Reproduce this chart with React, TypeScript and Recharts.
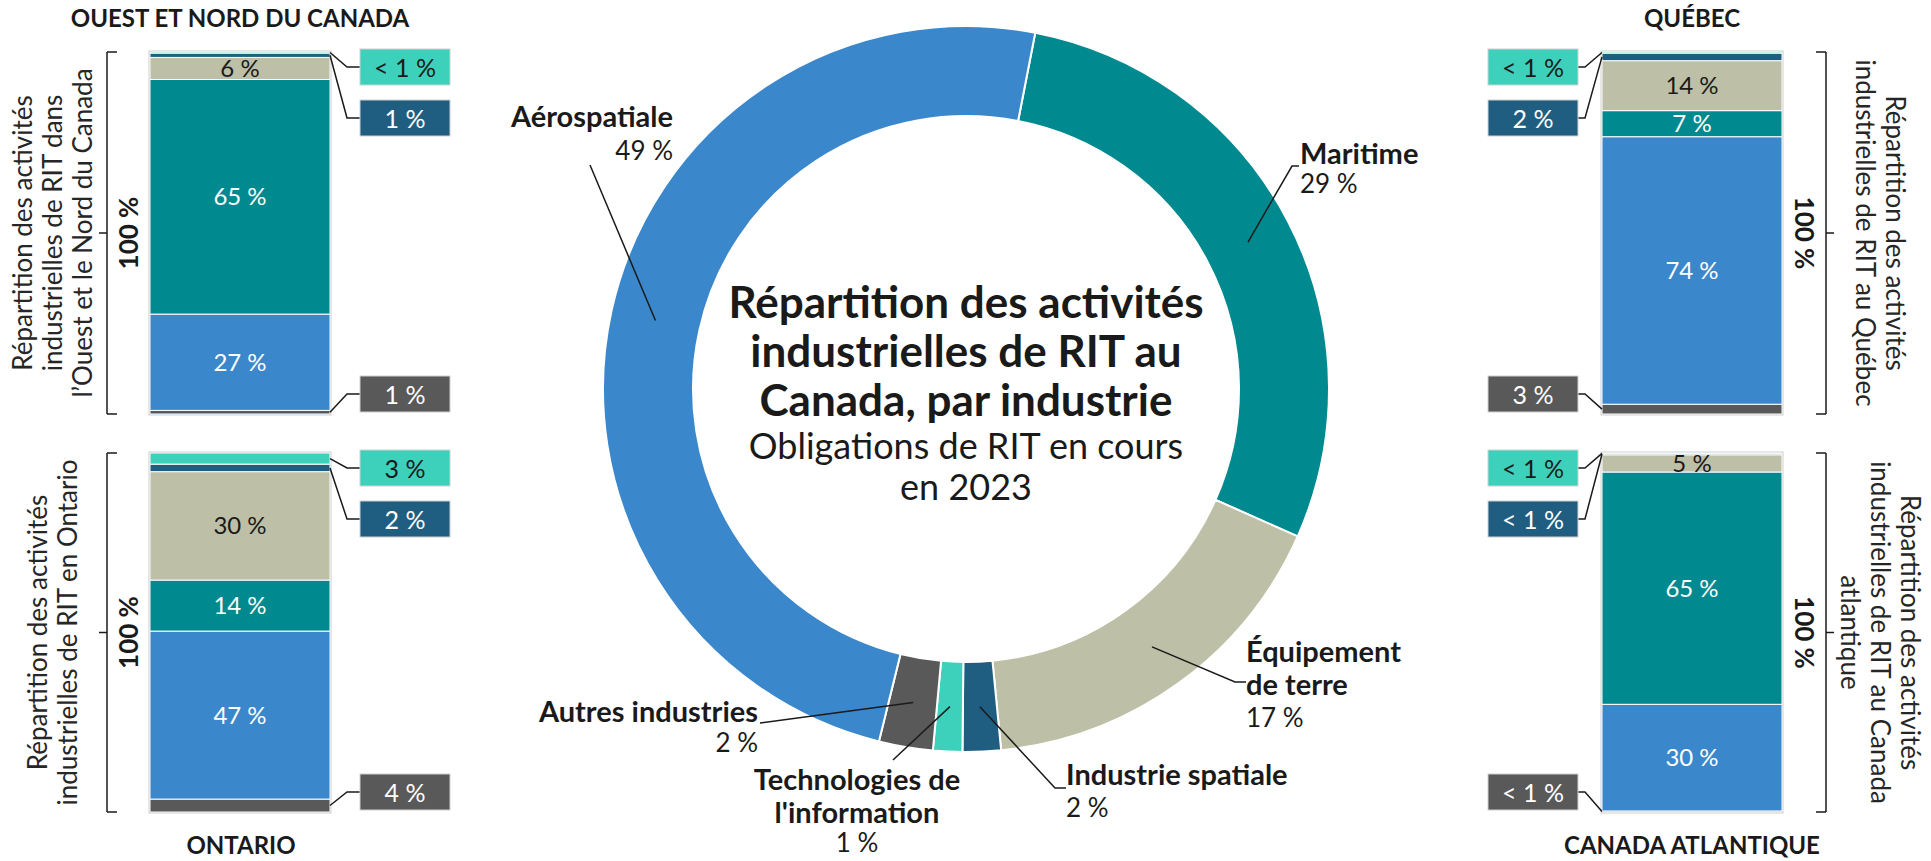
import React from 'react';
import { BarChart, Bar, XAxis, YAxis, LabelList, PieChart, Pie, Cell } from 'recharts';

const FONT = "Lato, 'Open Sans', sans-serif";
const INK = '#1a1a1a';

// stacked series, bottom -> top
const seriesKeys = ['autres', 'aero', 'maritime', 'equipement', 'spatiale', 'ti'];
const seriesColors = ['#595959', '#3B87CB', '#00898F', '#BDBFA6', '#1F5E80', '#3DD1BC'];

const regionNames = ['OUEST ET NORD DU CANADA', 'ONTARIO', 'QUÉBEC', 'CANADA ATLANTIQUE'];
const regionAxisTitles = [
  ['Répartition des activités', 'industrielles de RIT dans', 'l’Ouest et le Nord du Canada'],
  ['Répartition des activités', 'industrielles de RIT en Ontario'],
  ['Répartition des activités', 'industrielles de RIT au Québec'],
  ['Répartition des activités', 'industrielles de RIT au Canada', 'atlantique'],
];
const autres = [1.0, 3.6, 2.7, 0.3];
const aero = [26.6, 46.8, 73.9, 29.7];
const maritime = [64.8, 14.2, 7.2, 64.7];
const equipement = [6.1, 30.2, 13.8, 4.8];
const spatiale = [1.2, 2.1, 2.1, 0.3];
const ti = [0.3, 3.1, 0.3, 0.2];

// donut, clockwise from the Aérospatiale / Maritime boundary
const industries = ['Maritime', 'Équipement de terre', 'Industrie spatiale', "Technologies de l'information", 'Autres industries', 'Aérospatiale'];
const shares = [28.6, 16.8, 1.7, 1.3, 2.4, 49.2];
const industryColors = ['#00898F', '#BDBFA6', '#1F5E80', '#3DD1BC', '#595959', '#3B87CB'];
const industryLabelLines = [['Maritime'], ['Équipement', 'de terre'], ['Industrie spatiale'], ['Technologies de', "l'information"], ['Autres industries'], ['Aérospatiale']];

const pct = (v: number) => (v < 1 ? '< 1 %' : `${Math.round(v)} %`);

// label placement (offsets from donut centre)
const pieLabelLayout = [
  { pts: [[326, -223], [333, -223]], tx: 334, anchor: 'start', y0: -237, vy: -206 },
  { pts: [[269, 293], [280, 293]], tx: 280, anchor: 'start', y0: 261, vy: 328 },
  { pts: [[89, 399], [100, 399]], tx: 100, anchor: 'start', y0: 384, vy: 418 },
  { pts: [[-73, 371]], tx: -109, anchor: 'middle', y0: 389, vy: 453 },
  { pts: [[-206, 334]], tx: -208, anchor: 'end', y0: 321, vy: 353 },
  { pts: [[-376, -224]], tx: -293, anchor: 'end', y0: -274, vy: -239 },
];

const RAD = Math.PI / 180;

const renderPieLabel = (p: any) => {
  const { cx, cy, midAngle, innerRadius, outerRadius, index, value } = p;
  const r = (innerRadius + outerRadius) / 2;
  const sx = cx + Math.cos(-midAngle * RAD) * r;
  const sy = cy + Math.sin(-midAngle * RAD) * r;
  const lay = pieLabelLayout[index];
  const pts = [[sx, sy], ...lay.pts.map(([dx, dy]) => [cx + dx, cy + dy])];
  return (
    <g key={`pl-${index}`}>
      <polyline points={pts.map((q) => q.join(',')).join(' ')} fill="none" stroke={INK} strokeWidth={1.5} />
      {industryLabelLines[index].map((t, i) => (
        <text key={i} x={cx + lay.tx} y={cy + lay.y0 + i * 33} textAnchor={lay.anchor as any} dominantBaseline="central"
          fontFamily={FONT} fontWeight={700} fontSize={29} fill={INK}>{t}</text>
      ))}
      <text x={cx + lay.tx} y={cy + lay.vy} textAnchor={lay.anchor as any} dominantBaseline="central"
        fontFamily={FONT} fontSize={26} fill={INK}>{pct(value)}</text>
    </g>
  );
};

const BracketTick = (props: any) => {
  const { x, y, payload, dir, lines } = props;
  const v = payload.value;
  if (v === 50) {
    const rot = dir > 0 ? -90 : 90;
    const tcx = x - dir * 55;
    return (
      <g>
        <line x1={x} y1={y} x2={x - dir * 8} y2={y} stroke={INK} strokeWidth={1.5} />
        <text x={x + dir * 21} y={y} transform={`rotate(${rot} ${x + dir * 21} ${y})`} textAnchor="middle"
          dominantBaseline="central" fontFamily={FONT} fontWeight={700} fontSize={26} fill={INK}>100 %</text>
        <g transform={`rotate(${rot} ${tcx} ${y})`}>
          {lines.map((t: string, i: number) => (
            <text key={i} x={tcx} y={y + (i - (lines.length - 1) / 2) * 30} textAnchor="middle" dominantBaseline="central"
              fontFamily={FONT} fontSize={26} fill="#262626">{t}</text>
          ))}
        </g>
      </g>
    );
  }
  return <line x1={x} y1={y} x2={x + dir * 10} y2={y} stroke={INK} strokeWidth={1.5} />;
};

const makeCallout = (side: string, plotTop: number, kind: string, fill: string, textFill: string) => (props: any) => {
  const vb = props.viewBox || props;
  const { x, y, width, height } = vb;
  const left = side === 'left';
  const dir = left ? 1 : -1;
  const edge = left ? x + width : x;
  const segMid = y + height / 2;
  const cyBox = kind === 'top' ? plotTop + 15 : kind === 'second' ? plotTop + 66 : y + height - 20;
  const bw = 90;
  const bh = 36;
  const bx = left ? edge + 30 : edge - 24 - bw;
  const boxEdge = left ? bx : bx + bw;
  return (
    <g>
      <polyline points={`${edge},${segMid} ${edge + dir * 17},${cyBox} ${boxEdge},${cyBox}`} fill="none" stroke={INK} strokeWidth={1.5} />
      <rect x={bx} y={cyBox - bh / 2} width={bw} height={bh} fill={fill} stroke="#d0d0d0" strokeWidth={1} />
      <text x={bx + bw / 2} y={cyBox} textAnchor="middle" dominantBaseline="central" fontFamily={FONT} fontSize={25} fill={textFill}>
        {pct(props.value)}
      </text>
    </g>
  );
};

type RegionProps = { idx: number; left: number; top: number; width: number; height: number; side: 'left' | 'right'; mTop: number; mBottom: number };

const RegionBar = ({ idx, left, top, width, height, side, mTop, mBottom }: RegionProps) => {
  const row: any = {
    name: regionNames[idx],
    autres: autres[idx],
    aero: aero[idx],
    maritime: maritime[idx],
    equipement: equipement[idx],
    spatiale: spatiale[idx],
    ti: ti[idx],
  };
  const dir = side === 'left' ? 1 : -1;
  const margin = side === 'left' ? { top: mTop, bottom: mBottom, left: 0, right: 107 } : { top: mTop, bottom: mBottom, left: 108, right: 0 };
  return (
    <div style={{ position: 'absolute', left, top }}>
      <BarChart width={width} height={height} data={[row]} margin={margin} barSize={180}>
        <XAxis dataKey="name" hide />
        <YAxis orientation={side} width={side === 'left' ? 107 : 105} domain={[0, 100]} ticks={[0, 50, 100]} interval={0}
          tickLine={false} tickSize={0} tickMargin={0} axisLine={{ stroke: INK, strokeWidth: 1.5 }}
          tick={(p: any) => <BracketTick {...p} dir={dir} lines={regionAxisTitles[idx]} />} />
        {seriesKeys.map((k, i) => {
          const light = k === 'equipement' || k === 'ti';
          const txt = light ? INK : '#ffffff';
          let labels: any = null;
          if (k === 'ti') labels = <LabelList dataKey={k} content={makeCallout(side, mTop, 'top', seriesColors[i], txt)} />;
          else if (k === 'spatiale') labels = <LabelList dataKey={k} content={makeCallout(side, mTop, 'second', seriesColors[i], txt)} />;
          else if (k === 'autres') labels = <LabelList dataKey={k} content={makeCallout(side, mTop, 'bottom', seriesColors[i], txt)} />;
          else labels = <LabelList dataKey={k} position="center" formatter={(v: any) => pct(Number(v))} fill={txt} fontSize={24} fontFamily={FONT} />;
          return (
            <Bar key={k} dataKey={k} stackId="s" fill={seriesColors[i]} stroke="#ffffff" strokeWidth={1} isAnimationActive={false}
              background={i === 0 ? { fill: 'none', stroke: '#cfcfcf', strokeWidth: 3 } : undefined}>
              {labels}
            </Bar>
          );
        })}
      </BarChart>
    </div>
  );
};

const regionTitle = (text: string, cx: number, cy: number) => (
  <div style={{ position: 'absolute', left: cx - 220, top: cy - 15, width: 440, height: 30, lineHeight: '30px', textAlign: 'center',
    fontFamily: FONT, fontWeight: 700, fontSize: 24, color: INK }}>{text}</div>
);

export default function App() {
  const pieData = industries.map((name, i) => ({ name, value: shares[i] }));
  return (
    <div style={{ position: 'absolute', left: 0, top: 0, width: 1931, height: 861, background: '#fff', overflow: 'hidden' }}>
      <div style={{ position: 'absolute', left: 0, top: 0 }}>
        <PieChart width={1931} height={861} margin={{ top: 0, left: 0, right: 0, bottom: 0 }}>
          <Pie data={pieData} dataKey="value" nameKey="name" cx={966} cy={389} innerRadius={273} outerRadius={363}
            startAngle={79} endAngle={-281} stroke="#ffffff" strokeWidth={2} isAnimationActive={false}
            labelLine={false} label={renderPieLabel}>
            {pieData.map((d, i) => <Cell key={d.name} fill={industryColors[i]} />)}
          </Pie>
        </PieChart>
      </div>
      <RegionBar idx={0} left={0} top={0} width={480} height={430} side="left" mTop={52} mBottom={16} />
      <RegionBar idx={1} left={0} top={430} width={480} height={431} side="left" mTop={23} mBottom={49} />
      <RegionBar idx={2} left={1450} top={0} width={481} height={430} side="right" mTop={52} mBottom={16} />
      <RegionBar idx={3} left={1450} top={430} width={481} height={431} side="right" mTop={23} mBottom={49} />
      {regionTitle(regionNames[0], 240, 18)}
      {regionTitle(regionNames[1], 241, 845)}
      {regionTitle(regionNames[2], 1692, 18)}
      {regionTitle(regionNames[3], 1692, 845)}
      <div style={{ position: 'absolute', left: 666, top: 277, width: 600, textAlign: 'center', fontFamily: FONT, color: INK }}>
        <div style={{ fontWeight: 700, fontSize: 44, lineHeight: '49px' }}>
          Répartition des activités<br />industrielles de RIT au<br />Canada, par industrie
        </div>
        <div style={{ fontSize: 36, lineHeight: '41px', marginTop: 1 }}>
          Obligations de RIT en cours<br />en 2023
        </div>
      </div>
    </div>
  );
}
